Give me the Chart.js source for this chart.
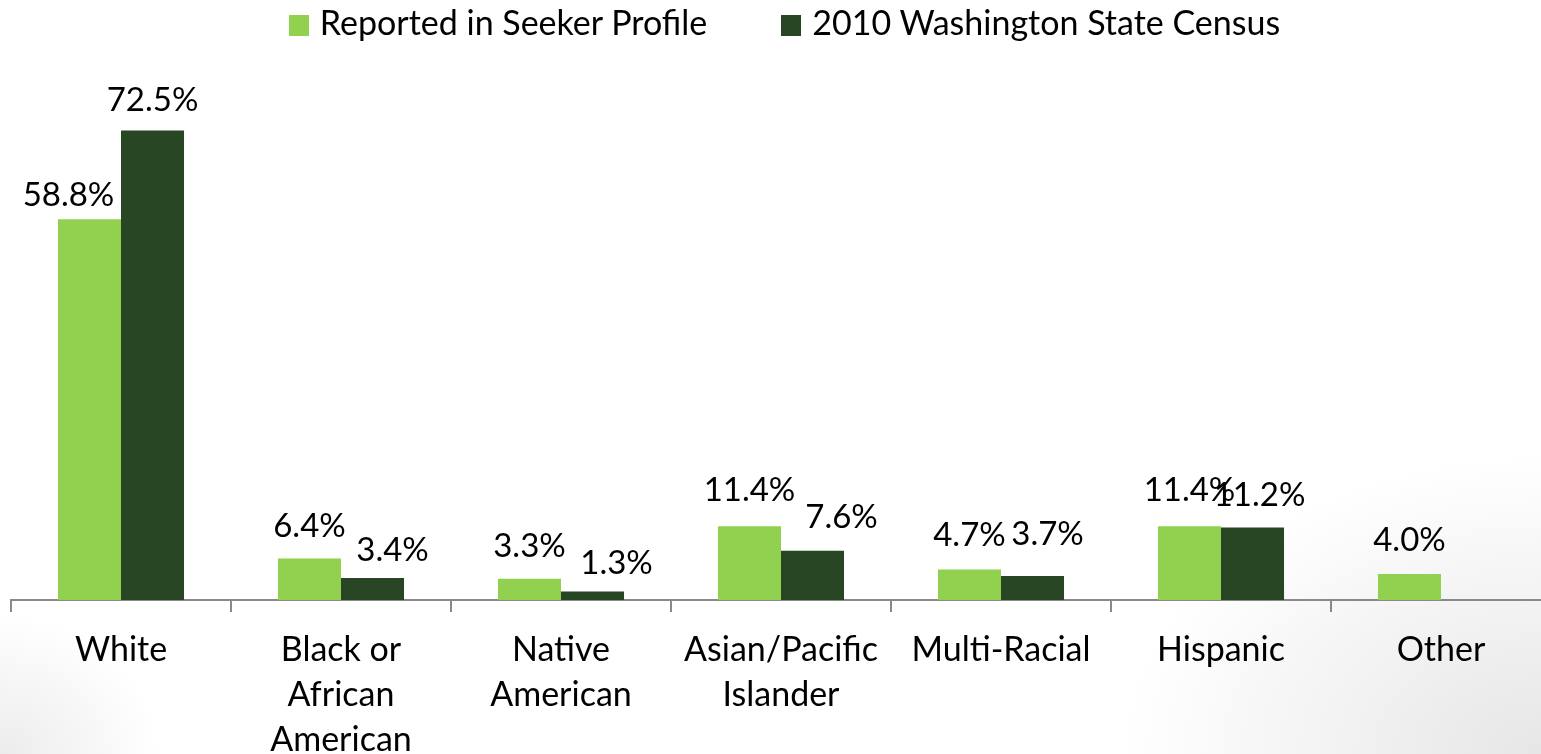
<!DOCTYPE html>
<html>
<head>
<meta charset="utf-8">
<script src="https://cdn.jsdelivr.net/npm/chart.js@4/dist/chart.umd.min.js"></script>
<style>
  html, body { margin:0; padding:0; overflow:hidden; }
  body {
    width:1541px; height:754px; position:relative;
    background:
      radial-gradient(ellipse 420px 300px at 100% 100%, #e6e6e6, rgba(255,255,255,0) 100%),
      radial-gradient(ellipse 160px 140px at 0% 100%, #ececec, rgba(255,255,255,0) 100%),
      #fff;
    font-family: Lato, 'Open Sans', sans-serif;
  }
  #wrap { position:absolute; left:0; top:0; width:1551px; height:779px; }
  #legend { position:absolute; top:1px; left:14px; width:1541px; text-align:center;
            font-size:34px; color:#000; white-space:nowrap; }
  #legend span.item { display:inline-block; margin:0 37px; }
  #legend i { display:inline-block; width:20px; height:21px; margin-right:11px;
              vertical-align:-1px; }
</style>
</head>
<body>
<div id="wrap"><canvas id="raceChart"></canvas></div>
<div id="legend"></div>
<script>
// categories and values (percent)
var categories = ["White", ["Black or", "African", "American"], ["Native", "American"],
                  ["Asian/Pacific", "Islander"], "Multi-Racial", "Hispanic", "Other"];
var seekerProfile = [58.8, 6.4, 3.3, 11.4, 4.7, 11.4, 4.0];
var stateCensus   = [72.5, 3.4, 1.3, 7.6, 3.7, 11.2, null];

var fontName = "Lato, 'Open Sans', sans-serif";

// draws the % value above each bar (with small hand nudges like the original)
var valueLabels = {
  id: 'valueLabels',
  afterDatasetsDraw: function(chart, args, opts) {
    var ctx = chart.ctx;
    ctx.save();
    ctx.fillStyle = '#000';
    ctx.font = '33px ' + fontName;
    ctx.textAlign = 'center';
    ctx.textBaseline = 'alphabetic';
    chart.data.datasets.forEach(function(ds, i) {
      var meta = chart.getDatasetMeta(i);
      meta.data.forEach(function(bar, j) {
        var v = ds.data[j];
        if (v === null || v === undefined) return;
        var dx = opts.nudgeX[i][j] || 0;
        var dy = opts.nudgeY[i][j] || 0;
        ctx.fillText(v.toFixed(1) + '%', bar.x + dx, bar.y - opts.gap + dy);
      });
    });
    ctx.restore();
  }
};

var ctx = document.getElementById("raceChart").getContext('2d');
var raceChart = new Chart(ctx, {
  type: 'bar',
  data: {
    labels: categories,
    datasets: [{
      label: 'Reported in Seeker Profile',
      data: seekerProfile,
      backgroundColor: '#92D050',
      barPercentage: 1,
      categoryPercentage: 0.573
    }, {
      label: '2010 Washington State Census',
      data: stateCensus,
      backgroundColor: '#284623',
      barPercentage: 1,
      categoryPercentage: 0.573
    }]
  },
  options: {
    responsive: true,
    maintainAspectRatio: false,
    animation: false,
    layout: { padding: { left: 11, right: 0, top: 82, bottom: 0 } },
    plugins: {
      legend: { display: false },
      tooltip: { enabled: false },
      valueLabels: {
        gap: 22,
        nudgeX: [[-21, 0, 0, 0, 0, 0, 0], [0, 20, 24, 29, 15, 7, 0]],
        nudgeY: [[9, 0, 0, -3, -2, -3, -1], [2, 5, 4, -1, -9, 1, 0]]
      }
    },
    scales: {
      x: {
        grid: {
          display: true,
          drawOnChartArea: false,
          drawTicks: true,
          tickLength: 12,
          color: '#898989',
          lineWidth: 2
        },
        border: { color: '#898989', width: 2 },
        ticks: {
          color: '#000',
          font: { family: fontName, size: 34, lineHeight: '45px' },
          maxRotation: 0,
          autoSkip: false,
          padding: 16
        }
      },
      y: {
        display: false,
        min: 0,
        max: 80
      }
    }
  },
  plugins: [valueLabels]
});

// legend built from the datasets
var legendBox = document.getElementById('legend');
raceChart.data.datasets.forEach(function(ds) {
  var item = document.createElement('span');
  item.className = 'item';
  var sw = document.createElement('i');
  sw.style.background = ds.backgroundColor;
  item.appendChild(sw);
  item.appendChild(document.createTextNode(ds.label));
  legendBox.appendChild(item);
});
</script>
</body>
</html>
